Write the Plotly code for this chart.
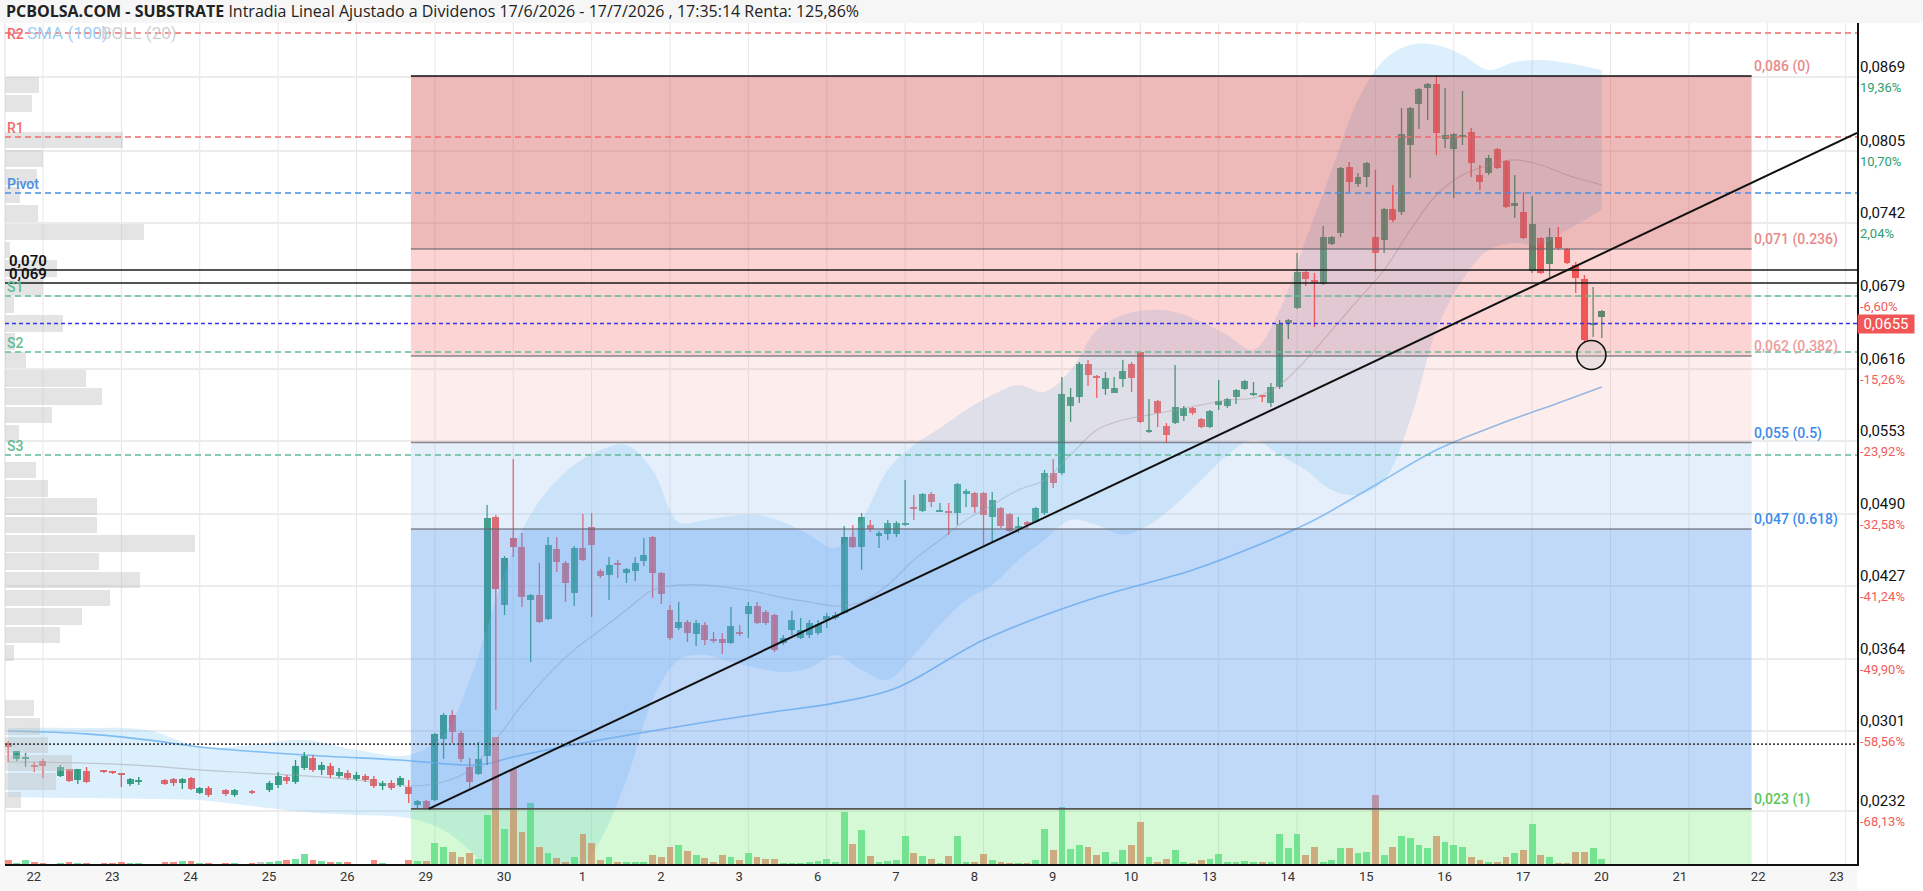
import math
import plotly.graph_objects as go

# ---------------- data ----------------
day_labels = ['22', '23', '24', '25', '26', '29', '30', '1', '2', '3', '6', '7', '8', '9', '10',
              '13', '14', '15', '16', '17', '20', '21', '22', '23']
slots_per_day = 9
first_slot = -4

opens = [.02910, .02772, .02772, .02720, .02754, None, .02624, .02685, .02589, .02668, None, .02668, .02659, .02641, .02555, .02572, None, None, .02589, .02598,
         .02563, .02607, .02477, .02520, None, .02503, .02459, None, .02485, None, .02503, .02546, .02615, .02572, .02694, .02780, .02676, .02711, .02624, .02650,
         .02598, .02624, .02598, .02537, .02563, .02546, .02529, .02372, .02407, .02416, .02945, .03153, .02997, .02702, .02641, .02798, .04872, .04108, .04689, .04611,
         .04151, .04195, .03987, .04594, .04473, .04212, .04603, .04785, .04403, .04368, .04473, .04386, .04403, .04490, .04698, .04386, .04065, .03908, .03961, .03856,
         .03934, .03804, .03813, .03778, .03874, .04030, .04099, .04047, .04021, .03778, .03891, .03822, .03848, .03865, .03978, .03995, .04039, .04698, .04611, .04802,
         .04707, .04724, .04724, .04802, .04950, .04924, .05071, .04915, .04924, .04906, .05071, .05080, .05080, .04872, .04950, .04898, .04776, .04828, .04828, .04906,
         .05254, .05254, .05835, .05913, .06199, .06087, .05982, .05948, .06069, .06199, .06304, .05609, .05878, .05661, .05687, .05748, .05818, .05722, .05653, .05844,
         .05835, .05913, .05982, .05930, .05922, .05861, .06000, .06555, .06685, .06998, .06928, .06894, .07241, .07336, .07909, .07761, .07822, .07302, .07276, .07545,
         .07519, .08100, .08456, .08595, .08629, .08152, .08065, .08174, .08213, .07840, .07857, .08065, .07961, .07571, .07519, .07007, .07293, .07067, .07302, .07197,
         .07059, .06937, .06538, .06607]
highs = [.02928, .02841, .02824, .02746, .02772, None, .02720, .02685, .02685, .02702, None, .02676, .02668, .02641, .02607, .02615, None, None, .02598, .02607,
         .02607, .02615, .02529, .02537, None, .02511, .02511, None, .02503, None, .02581, .02659, .02633, .02763, .02832, .02806, .02746, .02737, .02694, .02676,
         .02659, .02641, .02624, .02581, .02589, .02624, .02589, .02416, .02416, .02997, .03171, .03197, .03015, .02780, .02919, .04976, .04889, .04533, .05375, .04733,
         .04204, .04473, .04698, .04698, .04490, .04620, .04898, .04906, .04420, .04525, .04499, .04429, .04525, .04689, .04707, .04394, .04108, .04134, .03978, .03978,
         .03961, .03874, .03865, .04091, .03934, .04134, .04134, .04065, .04030, .03848, .04056, .03995, .03978, .03978, .04039, .04047, .04794, .04802, .04906, .04846,
         .04750, .04846, .04837, .05193, .05063, .05080, .05089, .04993, .04993, .05167, .05115, .05089, .05089, .05089, .04959, .04906, .04872, .04837, .04959, .05280,
         .05375, .06087, .05991, .06217, .06234, .06104, .06130, .06087, .06234, .06217, .06304, .05896, .05887, .05687, .06191, .05835, .05826, .05731, .05800, .06061,
         .05904, .05982, .06061, .06043, .05930, .06035, .06581, .06590, .07163, .07007, .06989, .07397, .07310, .07909, .07952, .07857, .07952, .07883, .07553, .07753,
         .08421, .08430, .08595, .08638, .08698, .08595, .08204, .08569, .08247, .07926, .08013, .08074, .07970, .07840, .07692, .07657, .07302, .07380, .07388, .07206,
         .07085, .06972, .06868, .06668]
lows = [.02746, .02754, .02702, .02659, .02607, None, .02615, .02572, .02555, .02563, None, .02650, .02641, .02529, .02537, .02546, None, None, .02546, .02537,
        .02511, .02503, .02468, .02442, None, .02451, .02442, None, .02468, None, .02485, .02520, .02555, .02555, .02676, .02659, .02633, .02607, .02607, .02589,
        .02581, .02572, .02520, .02503, .02503, .02529, .02390, .02346, .02338, .02407, .02772, .02910, .02746, .02520, .02633, .02720, .03197, .04021, .04525, .04091,
        .03613, .03952, .03978, .04394, .04134, .04099, .04490, .04004, .04342, .04151, .04342, .04299, .04316, .04446, .04169, .04117, .03804, .03891, .03787, .03752,
        .03761, .03778, .03683, .03770, .03839, .03822, .03943, .03934, .03700, .03761, .03848, .03813, .03822, .03848, .03908, .03978, .04030, .04603, .04412, .04742,
        .04603, .04672, .04698, .04794, .04846, .04915, .04959, .04915, .04716, .04802, .04959, .04906, .04629, .04655, .04776, .04742, .04733, .04768, .04820, .04889,
        .05123, .05236, .05696, .05861, .06009, .05904, .05930, .05948, .06000, .05956, .05687, .05601, .05653, .05514, .05679, .05705, .05757, .05644, .05644, .05800,
        .05818, .05852, .05974, .05922, .05870, .05826, .05982, .06416, .06677, .06876, .06520, .06885, .07232, .07302, .07692, .07735, .07735, .06998, .07163, .07432,
        .07492, .07814, .08239, .08317, .08013, .08074, .07640, .08100, .07822, .07709, .07840, .07892, .07553, .07466, .07284, .06989, .06980, .06954, .07189, .07067,
        .06816, .06390, .06434, .06425]
closes = [.02876, .02841, .02789, .02702, .02711, None, .02702, .02581, .02685, .02572, None, .02663, .02650, .02633, .02598, .02589, None, None, .02555, .02563,
          .02598, .02511, .02520, .02459, None, .02468, .02503, None, .02477, None, .02563, .02624, .02581, .02711, .02798, .02676, .02720, .02633, .02659, .02607,
          .02633, .02589, .02537, .02563, .02520, .02607, .02468, .02407, .02338, .02989, .03153, .03006, .02772, .02572, .02772, .04863, .04247, .04516, .04611, .04177,
          .04195, .03961, .04629, .04481, .04299, .04603, .04499, .04629, .04360, .04455, .04455, .04420, .04473, .04542, .04386, .04204, .03822, .03961, .03865, .03952,
          .03804, .03796, .03778, .03926, .03856, .04099, .03952, .03952, .03718, .03822, .03978, .03891, .03952, .03943, .04013, .04021, .04698, .04611, .04872, .04768,
          .04733, .04820, .04820, .04820, .04941, .05071, .05002, .04932, .04906, .05158, .05097, .04959, .04889, .05019, .04794, .04750, .04785, .04802, .04950, .05254,
          .05167, .05939, .05913, .06199, .06104, .06078, .06078, .05991, .06139, .06078, .05696, .05627, .05774, .05583, .05826, .05818, .05774, .05653, .05792, .05878,
          .05896, .05974, .06052, .05948, .05913, .06000, .06547, .06581, .06998, .06937, .06902, .07302, .07302, .07900, .07779, .07822, .07944, .07163, .07545, .07449,
          .08195, .08421, .08586, .08629, .08204, .08187, .08195, .08178, .07944, .07779, .07987, .07900, .07562, .07597, .07293, .07414, .06989, .07302, .07206, .07076,
          .06946, .06408, .06547, .06659]
volumes = [4, 1, 4, 2, 1.5, 0, 1, 2, 1, 1, 0, 1, 1, 2, 1, 1, 0, 0, 2, 2,
           3, 3, 1.5, 1, 0, 1, 1, 0, 1, 2.3, 1.7, 2.7, 4, 5.3, 10, 3.7, 3, 2, 2, 1.7,
           0.5, 0.5, 4, 1.3, 0.5, 0.5, 4.3, 3, 3, 21, 17, 12, 7, 11, 5, 49, 127, 35, 95, 32,
           61, 17, 11, 6, 2, 7, 30, 21, 4, 7, 2, 2, 2, 2, 9, 7, 17, 19, 13, 9,
           6, 2, 9, 7, 4, 11, 7, 5, 5, 1, 1, 1, 2, 3, 5, 2, 52, 20, 34, 8,
           2, 3, 4, 28, 11, 8, 5, 1, 8, 28, 2, 2, 10, 4, 2, 1, 1, 1, 4, 35,
           14, 57, 15, 19, 17, 9, 12, 2, 14, 19, 42, 7, 2, 5, 14, 2, 1, 4, 5, 10,
           2, 2, 3, 2, 2, 2, 30, 16, 30, 9, 17, 2, 4, 16, 16, 11, 12, 69, 9, 17,
           28, 26, 19, 16, 28, 22, 19, 17, 7, 4, 2, 2, 7, 11, 14, 40, 9, 7, 1, 1,
           12, 12, 16, 5]

# volume profile (40 equal price bins between the fib low and high, bottom to top)
profile_volume = [16, 51, 67, 43, 35, 29, 0, 0, 9, 55, 77, 105, 135, 94, 190, 92, 92, 43, 31, 0,
                  14, 47, 97, 81, 21, 10, 58, 9, 38, 52, 5, 139, 33, 15, 32, 38, 118, 0, 27, 34]

# Bollinger(20) and SMA(100)
boll_slots = [-4, 4, 12, 18, 24, 30, 36, 42, 46, 49, 52, 55, 58, 61, 64, 67, 70, 73, 76, 79, 82, 85, 88, 91, 94, 97,
              100, 103, 106, 109, 112, 115, 118, 121, 124, 127, 130, 133, 136, 139, 142, 145, 148, 151, 154, 157,
              160, 163, 166, 169, 172, 175, 179]
boll_upper = [.03041, .03041, .03023, .02876, .02893, .02937, .02850, .02806, .02980, .03457, .04151, .04759, .05106, .05323, .05453,
              .05497, .05280, .04828, .04846, .04880, .04889, .04828, .04716, .04603, .04846, .05280, .05497, .05644, .05800, .05930,
              .06017, .05956, .06147, .06494, .06625, .06668, .06651, .06564, .06451, .06321, .06668, .07276, .07883, .08490, .08838,
              .08968, .08968, .08881, .08751, .08820, .08838, .08811, .08751]
boll_lower = [.02442, .02433, .02425, .02416, .02364, .02312, .02286, .02260, .02156, .01982, .0175, .0175, .0175, .0175, .02068,
              .02589, .03284, .03631, .03674, .03613, .03561, .03526, .03561, .03674, .03544, .03457, .03674, .03934, .04151, .04281,
              .04499, .04672, .04846, .04802, .04716, .04802, .04976, .05193, .05410, .05540, .05410, .05280, .05106, .05063, .05193,
              .05713, .06494, .06928, .07189, .07249, .07232, .07362, .07536]
boll_mid = [.02746, .02737, .02711, .02676, .02650, .02624, .02589, .02537, .02572, .02676, .02937, .03240, .03501, .03718, .03891,
            .04065, .04238, .04281, .04281, .04256, .04221, .04169, .04134, .04099, .04134, .04281, .04499, .04672, .04846, .04976,
            .05106, .05193, .05410, .05627, .05713, .05757, .05800, .05844, .05887, .05904, .06017, .06234, .06494, .06755, .07015,
            .07362, .07666, .07839, .07926, .07970, .07926, .07839, .07753]
sma_slots = [-4, 5, 12, 18, 30, 41, 50, 54, 62, 72, 83, 91, 98, 108, 120, 132, 139, 146, 153, 160, 167, 174, 179]
sma_values = [.03014, .02989, .02937, .02876, .02806, .02763, .02719, .02789, .02910, .03041, .03171, .03258, .03388, .03804,
              .04151, .04412, .04611, .04846, .05149, .05453, .05670, .05861, .06000]

pivot_names = ['R2', 'R1', 'Pivot', 'S1', 'S2', 'S3']
pivot_values = [0.09072, 0.08169, 0.07683, 0.06790, 0.06303, 0.05410]
level_lines = [0.07015, 0.06902]
level_texts = ['0,070', '0,069']
last_price = 0.0655
start_price = 0.0290
fib_ratios = [0, 0.236, 0.382, 0.5, 0.618, 1]
trend_slots = [44.3, 208.3]
trend_prices = [0.02338, 0.08204]
axis_ticks = [0.0869, 0.0805, 0.0742, 0.0679, 0.0616, 0.0553, 0.0490, 0.0427, 0.0364, 0.0301, 0.0232]
axis_pct = ['19,36%', '10,70%', '2,04%', '-6,60%', '-15,26%', '-23,92%', '-32,58%', '-41,24%', '-49,90%', '-58,56%', '-68,13%']

# ---------------- layout constants ----------------
W, H = 1923, 891
ML, MR, MT, MB = 5, 66, 23, 27
PW, PH = W - ML - MR, H - MT - MB
X_RANGE = [-4.36, 208.3]
Y_RANGE = [0.01860, 0.091586]
FIB_X0, FIB_X1 = 42.25, 196.2
LABEL_SHIFT = -1.05
GREEN, RED = '#27966C', '#F25252'
FONT = 'Roboto, Arial, sans-serif'
TITLE_FONT = 'Open Sans, Roboto, Arial, sans-serif'

slots = list(range(first_slot, first_slot + len(opens)))
fig = go.Figure()

# Bollinger band + mid line + SMA
fig.add_trace(go.Scatter(x=boll_slots, y=boll_upper, mode='lines', line=dict(width=0, shape='spline', smoothing=1),
                         hoverinfo='skip', showlegend=False))
fig.add_trace(go.Scatter(x=boll_slots, y=boll_lower, mode='lines', line=dict(width=0, shape='spline', smoothing=1),
                         fill='tonexty', fillcolor='rgba(123,195,243,0.27)', hoverinfo='skip', showlegend=False))
fig.add_trace(go.Scatter(x=boll_slots, y=boll_mid, mode='lines',
                         line=dict(width=1.2, color='rgba(165,165,170,0.55)', shape='spline', smoothing=1),
                         hoverinfo='skip', showlegend=False))
fig.add_trace(go.Scatter(x=sma_slots, y=sma_values, mode='lines',
                         line=dict(width=1.6, color='rgba(110,180,240,0.85)', shape='spline', smoothing=1),
                         hoverinfo='skip', showlegend=False))

# candles
idx = [i for i, o in enumerate(opens) if o is not None]
for up, col in ((True, GREEN), (False, RED)):
    wx, wy = [], []
    for i in idx:
        if (closes[i] >= opens[i]) == up:
            wx += [slots[i], slots[i], None]
            wy += [lows[i], highs[i], None]
    fig.add_trace(go.Scatter(x=wx, y=wy, mode='lines', line=dict(width=1.3, color=col),
                             hoverinfo='skip', showlegend=False))
fig.add_trace(go.Bar(x=[slots[i] for i in idx],
                     y=[max(abs(closes[i] - opens[i]), 0.00009) for i in idx],
                     base=[min(opens[i], closes[i]) for i in idx],
                     width=0.8,
                     marker=dict(color=[GREEN if closes[i] >= opens[i] else RED for i in idx], line=dict(width=0)),
                     hoverinfo='skip', showlegend=False))

# volume
vcol = []
for i in range(len(volumes)):
    if opens[i] is None:
        vcol.append('rgba(150,150,150,0.5)')
    elif closes[i] >= opens[i]:
        vcol.append('rgba(60,212,122,0.72)')
    else:
        vcol.append('rgba(240,95,80,0.72)')
fig.add_trace(go.Bar(x=slots, y=volumes, width=0.78, marker=dict(color=vcol, line=dict(width=0)),
                     xaxis='x', yaxis='y2', hoverinfo='skip', showlegend=False))

# volume profile
hi = max(h for h in highs if h is not None)
lo = min(l for l in lows if l is not None)
nb = len(profile_volume)
bh = (hi - lo) / nb
fig.add_trace(go.Bar(y=[lo + (k + 0.5) * bh for k in range(nb)], x=profile_volume, orientation='h',
                     width=bh * 0.9, marker=dict(color='rgba(190,190,190,0.42)', line=dict(width=0)),
                     xaxis='x2', yaxis='y', hoverinfo='skip', showlegend=False))

shapes = []
# backgrounds outside plot
shapes.append(dict(type='rect', xref='paper', yref='paper', x0=-ML / PW, x1=(W - ML) / PW, y0=1, y1=1 + MT / PH,
                   fillcolor='#f6f6f6', line=dict(width=0), layer='below'))
shapes.append(dict(type='rect', xref='paper', yref='paper', x0=-ML / PW, x1=1, y0=-MB / PH, y1=0,
                   fillcolor='#f7f7f7', line=dict(width=0), layer='below'))
# vertical day grid
for k in range(len(day_labels)):
    shapes.append(dict(type='line', xref='x', yref='paper', x0=k * slots_per_day, x1=k * slots_per_day, y0=0, y1=1,
                       line=dict(color='#e6e6e6', width=1), layer='below'))
shapes.append(dict(type='line', xref='paper', yref='paper', x0=0, x1=0, y0=0, y1=1,
                   line=dict(color='#dddddd', width=1), layer='below'))

# fibonacci
levels = [hi - r * (hi - lo) for r in fib_ratios]
fib_fills = ['rgba(210,80,80,0.40)', 'rgba(245,100,100,0.28)', 'rgba(245,150,150,0.17)',
             'rgba(150,190,240,0.25)', 'rgba(100,160,240,0.40)']
for k in range(len(levels) - 1):
    shapes.append(dict(type='rect', xref='x', yref='y', x0=FIB_X0, x1=FIB_X1, y0=levels[k + 1], y1=levels[k],
                       fillcolor=fib_fills[k], line=dict(width=0), layer='above'))
shapes.append(dict(type='rect', xref='x', yref='y', x0=FIB_X0, x1=FIB_X1, y0=Y_RANGE[0], y1=levels[-1],
                   fillcolor='rgba(120,235,120,0.32)', line=dict(width=0), layer='above'))
for k, v in enumerate(levels):
    col = '#111111' if k == 0 else ('#555555' if k == len(levels) - 1 else 'rgba(100,100,110,0.75)')
    shapes.append(dict(type='line', xref='x', yref='y', x0=FIB_X0, x1=FIB_X1, y0=v, y1=v,
                       line=dict(color=col, width=1.6), layer='above'))

# pivot lines
piv_cols = ['#F26A6A', '#F26A6A', '#4A8FE3', '#62BC96', '#62BC96', '#62BC96']
for v, c in zip(pivot_values, piv_cols):
    shapes.append(dict(type='line', xref='paper', yref='y', x0=0, x1=1, y0=v, y1=v,
                       line=dict(color=c, width=1.5, dash='6px,4px'), layer='above'))
shapes.append(dict(type='line', xref='paper', yref='y', x0=0, x1=1, y0=last_price, y1=last_price,
                   line=dict(color='#3535E6', width=1.5, dash='4px,3px'), layer='above'))
shapes.append(dict(type='line', xref='paper', yref='y', x0=0, x1=1, y0=start_price, y1=start_price,
                   line=dict(color='#444444', width=1.6, dash='2px,2px'), layer='above'))
for v in level_lines:
    shapes.append(dict(type='line', xref='paper', yref='y', x0=0, x1=1, y0=v, y1=v,
                       line=dict(color='#1a1a1a', width=1.6), layer='above'))
# trend line
slope = (trend_prices[1] - trend_prices[0]) / (trend_slots[1] - trend_slots[0])
shapes.append(dict(type='line', xref='x', yref='y', x0=trend_slots[0], y0=trend_prices[0],
                   x1=X_RANGE[1], y1=trend_prices[0] + slope * (X_RANGE[1] - trend_slots[0]),
                   line=dict(color='#111111', width=2), layer='above'))
# circle around the last low
cx, cy = 177.8, 0.06277
rx, ry = 14.5 / (PW / (X_RANGE[1] - X_RANGE[0])), 14.5 / (PH / (Y_RANGE[1] - Y_RANGE[0]))
shapes.append(dict(type='circle', xref='x', yref='y', x0=cx - rx, x1=cx + rx, y0=cy - ry, y1=cy + ry,
                   fillcolor='rgba(200,200,200,0.3)', line=dict(color='#111111', width=1.6), layer='above'))

ann = []
ann.append(dict(xref='paper', yref='paper', x=0, y=1 + (MT / 2) / PH, xanchor='left', yanchor='middle', borderpad=0,
                showarrow=False,
                text='<b>PCBOLSA.COM - SUBSTRATE</b> Intradia Lineal Ajustado a Dividenos 17/6/2026 - 17/7/2026 , 17:35:14 Renta: 125,86%',
                font=dict(family=TITLE_FONT, size=16, color='#222222')))
ann.append(dict(xref='paper', yref='y', x=20 / PW, y=pivot_values[0], xanchor='left', yanchor='middle', showarrow=False,
                text='SMA (100)', font=dict(family=FONT, size=17, color='#9DCDF3')))
ann.append(dict(xref='paper', yref='y', x=94 / PW, y=pivot_values[0], xanchor='left', yanchor='middle', showarrow=False,
                text='BOLL (20)', font=dict(family=FONT, size=17, color='#CFCFCF')))
for name, v, c in zip(pivot_names, pivot_values, piv_cols):
    if name == pivot_names[0]:
        ann.append(dict(xref='paper', yref='paper', x=0, y=1, xanchor='left', yanchor='top', yshift=-1, showarrow=False,
                        text=name, font=dict(family=FONT, size=14, color=c, weight=500)))
    else:
        ann.append(dict(xref='paper', yref='y', x=0, y=v, xanchor='left', yanchor='bottom', yshift=-1, showarrow=False,
                        text=name, font=dict(family=FONT, size=14, color=c, weight=500)))
for v, t in zip(level_lines, level_texts):
    ann.append(dict(xref='paper', yref='y', x=2 / PW, y=v, xanchor='left', yanchor='bottom', yshift=-2, showarrow=False,
                    text=t, font=dict(family=FONT, size=15, color='#111111', weight=600)))
fib_label_cols = ['#E88A8A', '#E88A8A', '#EE9C9C', '#3D8BEA', '#3D8BEA', '#5CC65C']
for r, v, c in zip(fib_ratios, levels, fib_label_cols):
    txt = f"{math.floor(v * 1000) / 1000:.3f}".replace('.', ',') + f" ({r:g})"
    ann.append(dict(xref='x', yref='y', x=FIB_X1, y=v, xanchor='left', yanchor='bottom', yshift=-1, showarrow=False,
                    text=txt, font=dict(family=FONT, size=14, color=c, weight=500)))
for v, p in zip(axis_ticks, axis_pct):
    ann.append(dict(xref='paper', yref='y', x=1, y=v, xanchor='left', yanchor='bottom', xshift=1, yshift=-1,
                    showarrow=False, text=f"{v:.4f}".replace('.', ','), font=dict(family=FONT, size=15, color='#111111')))
    ann.append(dict(xref='paper', yref='y', x=1, y=v, xanchor='left', yanchor='top', xshift=1, yshift=-1,
                    showarrow=False, text=p,
                    font=dict(family=FONT, size=13, color='#2E9E6E' if not p.startswith('-') else '#F25C5C')))
ann.append(dict(xref='paper', yref='y', x=1, y=last_price, xanchor='left', yanchor='middle', xshift=0,
                showarrow=False, text=f"{last_price:.4f}".replace('.', ','), bgcolor='#F25555', borderpad=1,
                width=54, height=16, font=dict(family=FONT, size=15, color='white')))

fig.update_layout(
    width=W, height=H, margin=dict(l=ML, r=MR, t=MT, b=MB, pad=0),
    paper_bgcolor='white', plot_bgcolor='white', barmode='overlay', bargap=0,
    showlegend=False, shapes=shapes, annotations=ann,
    xaxis=dict(range=X_RANGE, showgrid=False, zeroline=False, showline=True, linecolor='#111111', linewidth=1.5,
               tickmode='array', tickvals=[k * slots_per_day + LABEL_SHIFT for k in range(len(day_labels))],
               ticktext=day_labels, ticks='', tickfont=dict(family=FONT, size=13, color='#333333'), fixedrange=True),
    yaxis=dict(range=Y_RANGE, side='right', showgrid=True, gridcolor='#ececec', gridwidth=1.5, zeroline=False,
               showline=True, linecolor='#111111', linewidth=1.5, tickmode='array', tickvals=axis_ticks,
               showticklabels=False, ticks='', fixedrange=True),
    yaxis2=dict(range=[0, PH], overlaying='y', visible=False, fixedrange=True),
    xaxis2=dict(range=[0, PW], overlaying='x', visible=False, fixedrange=True),
)

fig.write_html('out.html')
